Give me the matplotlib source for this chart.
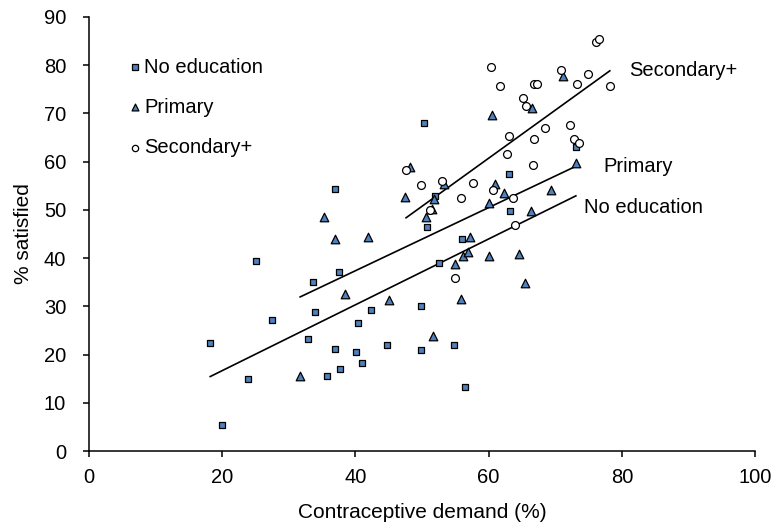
import numpy as np
import matplotlib
matplotlib.use("Agg")
import matplotlib.pyplot as plt

plt.rcParams['font.family'] = ['Liberation Sans', 'DejaVu Sans']

# No education (squares)
none_x = [18.2, 20.0, 23.9, 25.1, 27.5, 32.9, 33.7, 33.9, 35.8, 36.9,
          37.0, 37.6, 37.7, 40.1, 40.4, 41.0, 42.3, 44.7, 49.9, 49.9,
          50.3, 50.7, 52.0, 52.6, 54.8, 56.0, 56.4, 63.0, 63.2, 73.1]
none_y = [22.4, 5.5, 15.0, 39.3, 27.1, 23.3, 35.1, 28.8, 15.5, 21.1,
          54.3, 37.1, 17.0, 20.5, 26.5, 18.3, 29.2, 22.0, 30.0, 20.9,
          68.0, 46.4, 52.9, 38.9, 22.0, 44.0, 13.2, 57.4, 49.8, 63.1]

# Primary (triangles)
prim_x = [31.7, 35.3, 36.9, 38.4, 41.9, 45.0, 47.5, 48.2, 50.6, 51.5,
          51.6, 51.8, 53.3, 55.0, 55.9, 56.2, 56.9, 57.2, 60.0, 60.1,
          60.5, 61.0, 62.3, 64.6, 65.4, 66.3, 66.5, 69.3, 71.1, 73.1]
prim_y = [15.5, 48.6, 43.9, 32.6, 44.3, 31.4, 52.6, 58.9, 48.5, 50.1,
          23.8, 52.3, 55.4, 38.7, 31.5, 40.4, 41.2, 44.3, 40.4, 51.5,
          69.6, 55.3, 53.6, 40.9, 34.9, 49.8, 71.2, 54.1, 77.8, 59.7]

# Secondary+ (circles)
sec_x = [47.6, 49.8, 51.2, 53.0, 54.9, 55.8, 57.6, 60.3, 60.6, 61.7,
         62.8, 63.1, 63.6, 63.9, 65.2, 65.6, 66.6, 66.8, 66.8, 67.2,
         68.5, 70.9, 72.2, 72.8, 73.3, 73.6, 74.9, 76.1, 76.6, 78.2]
sec_y = [58.2, 55.2, 49.9, 56.0, 35.8, 52.5, 55.6, 79.6, 54.1, 75.7,
         61.5, 65.3, 52.5, 46.9, 73.2, 71.6, 59.3, 64.6, 76.2, 76.2,
         66.9, 78.9, 67.6, 64.6, 76.2, 63.8, 78.1, 84.8, 85.4, 75.7]

labels = ['No education', 'Primary', 'Secondary+']
blue = '#4F81BD'
fs = 14.5

fig, ax = plt.subplots(figsize=(7.74, 5.30), dpi=100)
fig.subplots_adjust(left=0.115, right=0.9755, top=0.968, bottom=0.149)

groups = [(none_x, none_y, 's', blue, 22),
          (prim_x, prim_y, '^', blue, 38),
          (sec_x, sec_y, 'o', 'white', 32)]

for (xs, ys, mk, fc, sz), lab in zip(groups, labels):
    ax.scatter(xs, ys, marker=mk, s=sz, facecolor=fc, edgecolor='black',
               linewidth=0.9, label=lab, zorder=3)

# linear trend lines over each group's range
label_pos = {'No education': (1.2, -2.5), 'Primary': (4.1, 0.0),
             'Secondary+': (2.9, 0.0)}
for (xs, ys, mk, fc, sz), lab in zip(groups, labels):
    xs = np.array(xs)
    k, b = np.polyfit(xs, ys, 1)
    xx = np.array([xs.min(), xs.max()])
    ax.plot(xx, k * xx + b, color='black', linewidth=1.2, zorder=2)
    dx, dy = label_pos[lab]
    ax.text(xx[1] + dx, k * xx[1] + b + dy, lab, fontsize=fs,
            ha='left', va='center')

ax.set_xlim(0, 100)
ax.set_ylim(0, 90)
ax.set_xticks(range(0, 101, 20))
ax.set_yticks(range(0, 91, 10))
ax.set_xlabel('Contraceptive demand (%)', fontsize=15, labelpad=11)
ax.set_ylabel('% satisfied', fontsize=15, labelpad=8)

ax.spines['top'].set_visible(False)
ax.spines['right'].set_visible(False)
ax.spines['left'].set_linewidth(1.1)
ax.spines['bottom'].set_linewidth(1.1)
ax.tick_params(direction='out', length=4.5, width=1.1, labelsize=fs)
ax.tick_params(axis='y', pad=12)
ax.tick_params(axis='x', pad=8)

ax.legend(loc='upper left', bbox_to_anchor=(0.045, 0.925), frameon=False,
          fontsize=fs, labelspacing=1.05, handletextpad=0.05,
          handlelength=0.8, borderaxespad=0, scatterpoints=1,
          markerscale=0.8)

fig.savefig('out.png', dpi=100)
